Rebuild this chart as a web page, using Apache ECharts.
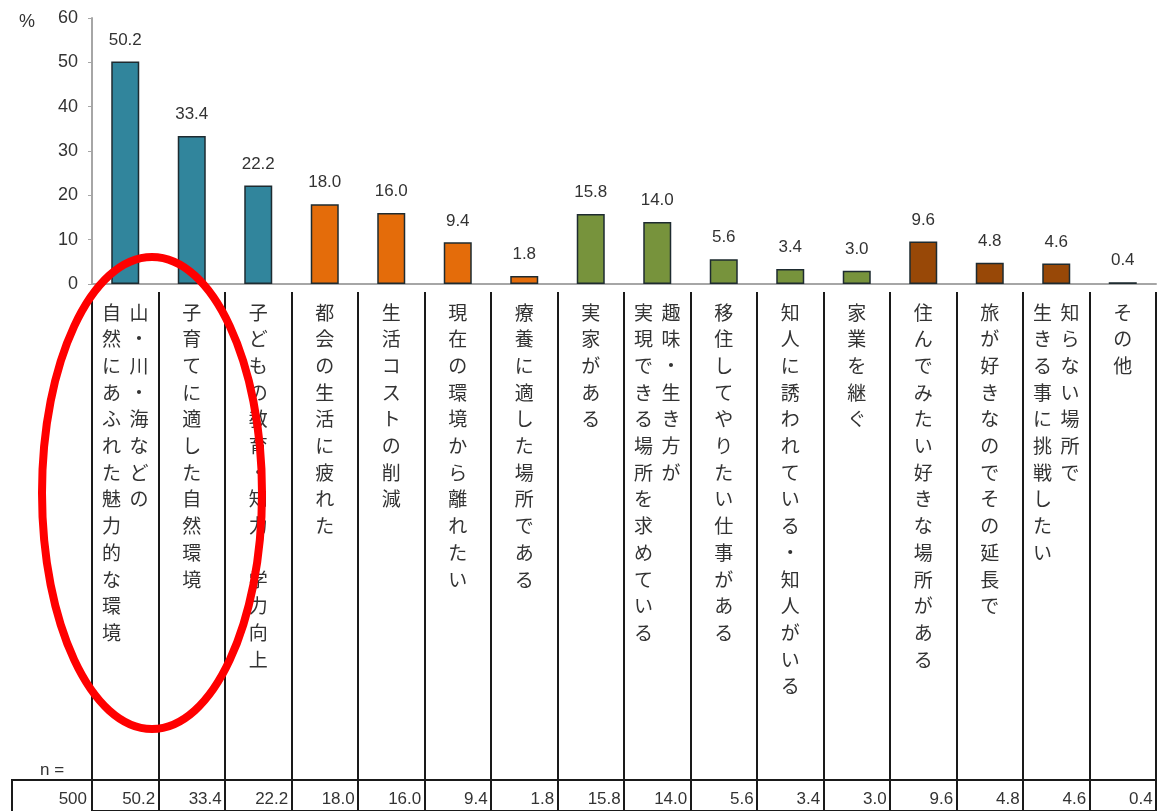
<!DOCTYPE html>
<html>
<head>
<meta charset="utf-8">
<script src="https://cdn.jsdelivr.net/npm/echarts@6/dist/echarts.min.js"></script>
<style>
  html, body { margin: 0; padding: 0; background: #fff; }
  #chart { width: 1158px; height: 811px; }
</style>
</head>
<body>
<div id="chart"></div>
<script>
// 移住理由（複数回答）  '|' の前が右側の列、後ろが左側の列
const reasons = [
  '山・川・海などの|自然にあふれた魅力的な環境',
  '子育てに適した自然環境',
  '子どもの教育・知力・学力向上',
  '都会の生活に疲れた',
  '生活コストの削減',
  '現在の環境から離れたい',
  '療養に適した場所である',
  '実家がある',
  '趣味・生き方が|実現できる場所を求めている',
  '移住してやりたい仕事がある',
  '知人に誘われている・知人がいる',
  '家業を継ぐ',
  '住んでみたい好きな場所がある',
  '旅が好きなのでその延長で',
  '知らない場所で|生きる事に挑戦したい',
  'その他'
]
const percents = [50.2, 33.4, 22.2, 18.0, 16.0, 9.4, 1.8, 15.8, 14.0, 5.6, 3.4, 3.0, 9.6, 4.8, 4.6, 0.4]
const groups = ['nature', 'nature', 'nature', 'escape', 'escape', 'escape', 'escape',
  'ties', 'ties', 'ties', 'ties', 'ties', 'place', 'place', 'place', 'other']
const yTicks = [0, 10, 20, 30, 40, 50, 60]
const sampleSize = 500

const groupColor = {
  nature: '#31859c',
  escape: '#e46c0a',
  ties: '#77933c',
  place: '#984807',
  other: '#7f7f7f'
}

const numFont = '"Liberation Sans", Arial, sans-serif'
const jpFont = '"Noto Sans CJK JP", sans-serif'
const textColor = '#333'

// 縦書き：1文字ずつ改行、2列のときは左列＋右列を1行に並べる
function toVertical(label) {
  const cols = label.split('|')
  if (cols.length === 1) return [...cols[0]].join('\n')
  const right = [...cols[0]]
  const left = [...cols[1]]
  const n = Math.max(right.length, left.length)
  const lines = []
  for (let i = 0; i < n; i++) {
    lines.push((left[i] || '\u3000') + '  ' + (right[i] || '\u3000'))
  }
  return lines.join('\n')
}

const chart = echarts.init(document.getElementById('chart'))

chart.setOption({
  backgroundColor: '#fff',
  animation: false,
  grid: [
    { left: 92, top: 18, width: 1064, height: 266 },
    { left: 92, top: 292, width: 1064, height: 488 },
    { left: 92, top: 780, width: 1064, height: 60 }
  ],
  xAxis: [
    {
      gridIndex: 0, type: 'category', data: reasons,
      axisLine: { lineStyle: { color: '#a6a6a6', width: 2 } },
      axisTick: { show: false },
      axisLabel: { show: false }
    },
    {
      gridIndex: 1, type: 'category', data: reasons, position: 'top',
      axisLine: { lineStyle: { color: '#1a1a1a', width: 2 } },
      axisTick: { show: false },
      splitLine: { show: true, lineStyle: { color: '#1a1a1a', width: 2 } },
      axisLabel: {
        inside: true, interval: 0, margin: 7,
        verticalAlign: 'top',
        fontFamily: jpFont, fontSize: 19, lineHeight: 26.7, color: textColor,
        formatter: v => toVertical(v)
      }
    },
    {
      gridIndex: 2, type: 'category', data: percents.map(v => v.toFixed(1)), position: 'top',
      axisLine: { lineStyle: { color: '#1a1a1a', width: 2 } },
      axisTick: { show: false },
      splitLine: { show: true, lineStyle: { color: '#1a1a1a', width: 2 } },
      axisLabel: {
        inside: true, interval: 0, margin: 19,
        verticalAlign: 'middle',
        formatter: v => `{v|${v}}`,
        rich: {
          v: { width: 60, align: 'right', fontFamily: numFont, fontSize: 17, color: textColor }
        }
      }
    }
  ],
  yAxis: [
    {
      gridIndex: 0, type: 'value', min: yTicks[0], max: yTicks[yTicks.length - 1], interval: 10,
      name: '%', nameLocation: 'end', nameGap: -13,
      nameTextStyle: { align: 'right', padding: [0, 57, 0, 0], fontFamily: numFont, fontSize: 18, color: textColor },
      axisLine: { show: true, lineStyle: { color: '#a6a6a6', width: 2 } },
      axisTick: { show: true, length: 4, lineStyle: { color: '#a6a6a6' } },
      splitLine: { show: false },
      axisLabel: { margin: 14, fontFamily: numFont, fontSize: 18, color: textColor }
    },
    { gridIndex: 1, type: 'value', show: false },
    { gridIndex: 2, type: 'value', show: false }
  ],
  series: [
    {
      type: 'bar',
      xAxisIndex: 0, yAxisIndex: 0,
      barWidth: 28,
      data: percents.map((v, i) => ({
        value: v,
        itemStyle: { color: groupColor[groups[i]] }
      })),
      itemStyle: { borderColor: '#1e2b30', borderWidth: 1.5 },
      label: {
        show: true, position: 'top', distance: 13,
        formatter: p => p.value.toFixed(1),
        fontFamily: numFont, fontSize: 17, color: textColor
      }
    }
  ],
  graphic: [
    // 左下の n 欄
    {
      type: 'rect', shape: { x: 12, y: 780, width: 80, height: 60 },
      style: { fill: 'none', stroke: '#1a1a1a', lineWidth: 2 }
    },
    {
      type: 'text', x: 52, y: 770,
      style: { text: 'n =', align: 'center', verticalAlign: 'middle', font: '17px ' + numFont, fill: textColor }
    },
    {
      type: 'text', x: 87, y: 799,
      style: { text: String(sampleSize), align: 'right', verticalAlign: 'middle', font: '17px ' + numFont, fill: textColor }
    },
    // 赤い丸囲み
    {
      type: 'ellipse', z: 100,
      shape: { cx: 152, cy: 493, rx: 110, ry: 236 },
      style: { fill: 'none', stroke: '#ff0000', lineWidth: 8 }
    }
  ]
})
</script>
</body>
</html>
